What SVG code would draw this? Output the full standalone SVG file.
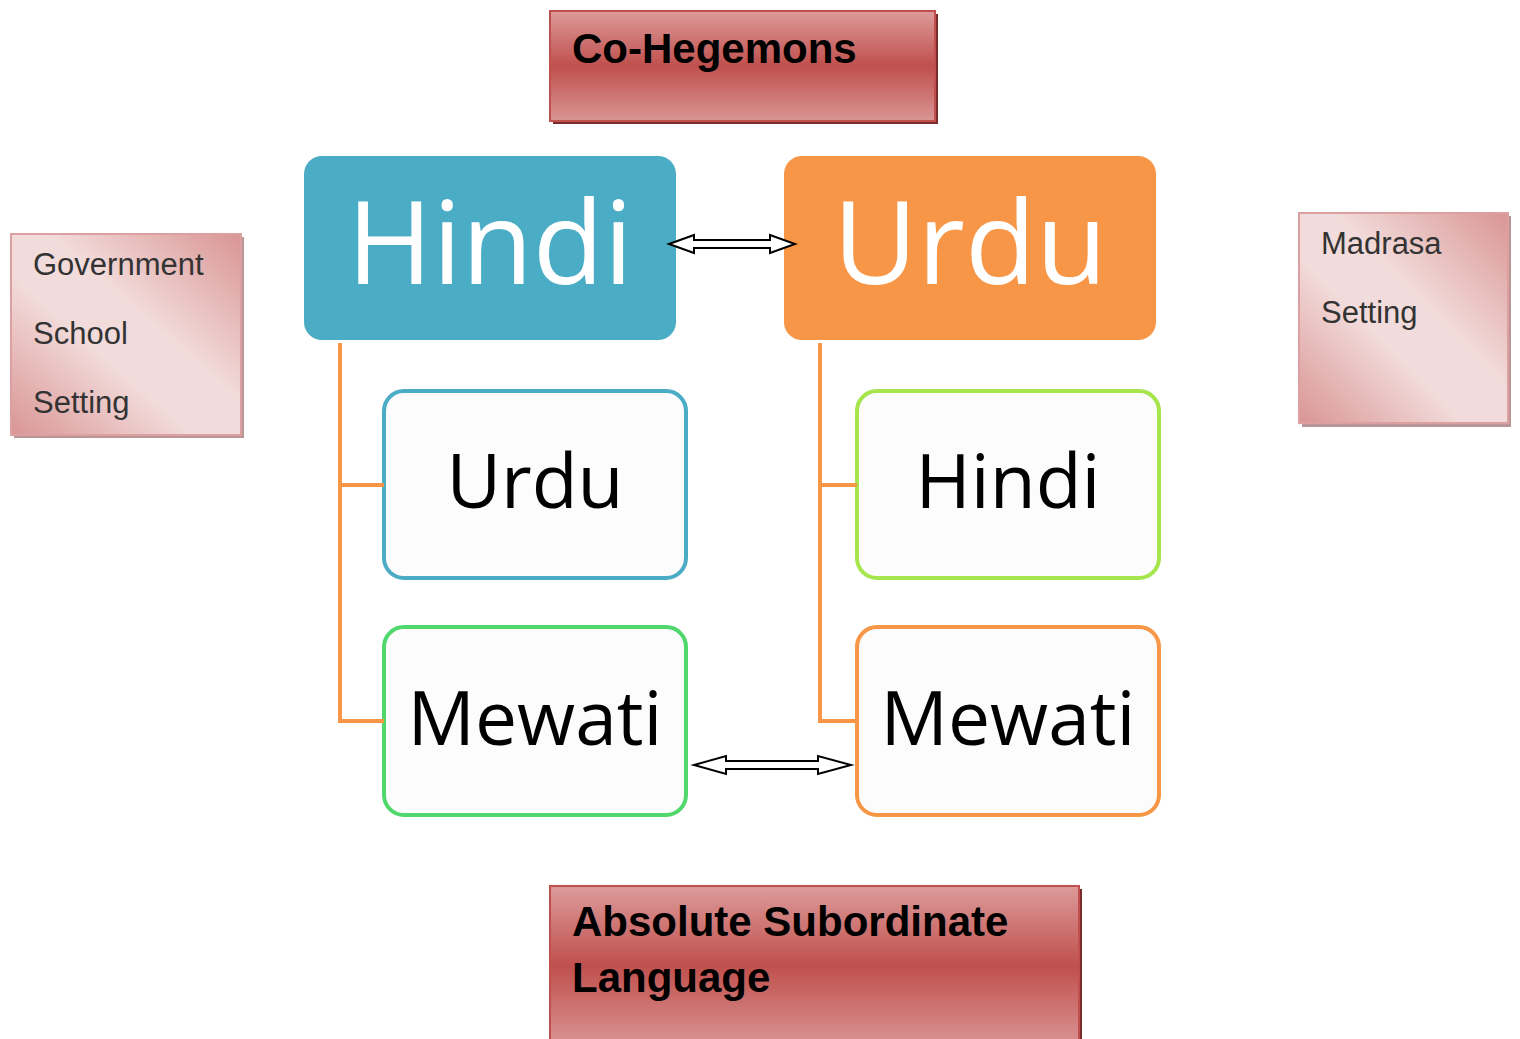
<svg xmlns="http://www.w3.org/2000/svg" width="1520" height="1039" viewBox="0 0 1520 1039">
<defs>
<linearGradient id="redG" x1="0" y1="0" x2="0" y2="1">
<stop offset="0" stop-color="#dc9b9a"/>
<stop offset="0.5" stop-color="#c0504d"/>
<stop offset="1" stop-color="#d99594"/>
</linearGradient>
<linearGradient id="pinkG" x1="1" y1="0" x2="0" y2="1">
<stop offset="0" stop-color="#d99594"/>
<stop offset="0.42" stop-color="#f2dcdb"/>
<stop offset="0.6" stop-color="#f2dcdb"/>
<stop offset="1" stop-color="#d99594"/>
</linearGradient>
<style>
.red{fill:url(#redG);stroke:#c0504d;stroke-width:2}
.redsh{fill:#7b2b29}
.pink{fill:url(#pinkG);stroke:#dba09f;stroke-width:2}
.pinksh{fill:#b99595}
.rt{font-family:"Liberation Sans",Arial,sans-serif;font-weight:bold;font-size:42px;fill:#000}
.pt{font-family:"Liberation Sans",Arial,sans-serif;font-size:31px;fill:#333}
.big{font-family:"Open Sans",sans-serif;font-size:116px;fill:#fff;text-anchor:middle}
.sm{font-family:"Open Sans",sans-serif;font-size:75px;fill:#000;text-anchor:middle}
.child{fill:#fcfcfc;stroke-width:4}
.conn{fill:none;stroke:#f79646;stroke-width:4}
.dbl{fill:#fff;stroke:#000;stroke-width:2;stroke-linejoin:miter}
</style>
</defs>
<g id="co-hegemons">
<rect class="redsh" x="553" y="14" width="385" height="110"/>
<rect class="red" x="550" y="11" width="385" height="110"/>
<text class="rt" x="572" y="63">Co-Hegemons</text>
</g>
<g id="government">
<rect class="pinksh" x="14" y="237" width="230" height="201"/>
<rect class="pink" x="11" y="234" width="230" height="201"/>
<text class="pt" x="33" y="275">Government</text>
<text class="pt" x="33" y="344">School</text>
<text class="pt" x="33" y="413">Setting</text>
</g>
<g id="madrasa">
<rect class="pinksh" x="1302" y="216" width="209" height="211"/>
<rect class="pink" x="1299" y="213" width="209" height="210"/>
<text class="pt" x="1321" y="254">Madrasa</text>
<text class="pt" x="1321" y="323">Setting</text>
</g>
<g id="absolute">
<rect class="redsh" x="553" y="889" width="529" height="160"/>
<rect class="red" x="550" y="886" width="529" height="160"/>
<text class="rt" x="572" y="936">Absolute Subordinate</text>
<text class="rt" x="572" y="992">Language</text>
</g>
<g id="hindi-main">
<rect x="304" y="156" width="372" height="184" rx="18" fill="#4bacc6"/>
<text class="big" x="490" y="284">Hindi</text>
</g>
<g id="urdu-main">
<rect x="784" y="156" width="372" height="184" rx="18" fill="#f79646"/>
<text class="big" x="970" y="284">Urdu</text>
</g>
<g id="urdu-child">
<rect class="child" x="384" y="391" width="302" height="187" rx="20" stroke="#4bacc6"/>
<text class="sm" x="535" y="508">Urdu</text>
</g>
<g id="mewati-left">
<rect class="child" x="384" y="627" width="302" height="188" rx="20" stroke="#50d86c"/>
<text class="sm" x="535" y="745">Mewati</text>
</g>
<g id="hindi-child">
<rect class="child" x="857" y="391" width="302" height="187" rx="20" stroke="#a6e64c"/>
<text class="sm" x="1008" y="508">Hindi</text>
</g>
<g id="mewati-right">
<rect class="child" x="857" y="627" width="302" height="188" rx="20" stroke="#f79646"/>
<text class="sm" x="1008" y="745">Mewati</text>
</g>
<g id="connectors">
<path class="conn" d="M340 343 V721 H384 M340 485 H384"/>
<path class="conn" d="M820 343 V721 H857 M820 485 H857"/>
<polygon class="dbl" points="669,244 694,235 694,240 770,240 770,235 795,244 770,253 770,248 694,248 694,253"/>
<polygon class="dbl" points="694,765 726,756 726,761 818,761 818,756 851,765 818,774 818,769 726,769 726,774"/>
</g>
</svg>
